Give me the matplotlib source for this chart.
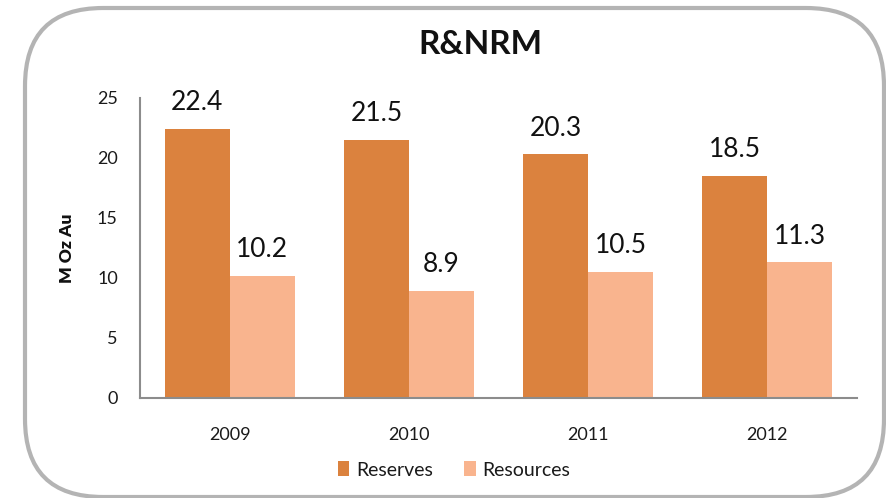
import matplotlib

matplotlib.use("Agg")
import matplotlib.pyplot as plt  # noqa: E402
import numpy as np  # noqa: E402
from matplotlib.patches import FancyBboxPatch  # noqa: E402

years = ["2009", "2010", "2011", "2012"]
reserves = [22.4, 21.5, 20.3, 18.5]
resources = [10.2, 8.9, 10.5, 11.3]

RESERVE_COLOR = "#DB823E"
RESOURCE_COLOR = "#F9B48E"
W, H = 886, 498

plt.rcParams["font.family"] = ["Lato", "DejaVu Sans"]

fig = plt.figure(figsize=(W / 100, H / 100), dpi=100)

# pixel-space background axes for the rounded frame
bg = fig.add_axes([0, 0, 1, 1])
bg.set_xlim(0, W)
bg.set_ylim(H, 0)
bg.axis("off")
frame = FancyBboxPatch((25, 8), 859, 489, boxstyle="round,pad=0,rounding_size=78",
                       facecolor="white", edgecolor="#B4B4B4", linewidth=3)
bg.add_patch(frame)

ax = fig.add_axes([140 / W, 1 - 398 / H, (857 - 140) / W, 300 / H])
ax.patch.set_alpha(0)

x = np.arange(len(years))
width = 0.3625
b1 = ax.bar(x - width / 2, reserves, width, color=RESERVE_COLOR, label="Reserves")
b2 = ax.bar(x + width / 2, resources, width, color=RESOURCE_COLOR, label="Resources")

for bars, vals in ((b1, reserves), (b2, resources)):
    for rect, v in zip(bars, vals):
        ax.annotate(f"{v:.1f}", (rect.get_x() + rect.get_width() / 2, v),
                    xytext=(0, 13.5), textcoords="offset points",
                    ha="center", va="baseline", fontsize=19, color="#111111")

ax.set_xlim(-0.5, len(years) - 0.5)
ax.set_ylim(0, 25)
ax.set_yticks([0, 5, 10, 15, 20, 25])
ax.set_xticks(x, years)
ax.tick_params(axis="y", length=0, pad=16, labelsize=13, labelcolor="#1a1a1a")
ax.tick_params(axis="x", length=0, pad=21, labelsize=13, labelcolor="#1a1a1a")
for side in ("top", "right"):
    ax.spines[side].set_visible(False)
for side in ("left", "bottom"):
    ax.spines[side].set_color("#8C8C8C")
    ax.spines[side].set_linewidth(1.5)

fig.text(67 / W, 1 - 248 / H, "M Oz Au", rotation=90, ha="center", va="center",
         fontsize=12.5, fontweight="heavy", color="#111111")
fig.text(480 / W, 1 - 45 / H, "R&NRM", ha="center", va="center",
         fontsize=24, fontweight="bold", color="#111111")

fig.legend(handles=[b1, b2], loc="center", bbox_to_anchor=(454 / W, 1 - 470 / H),
           ncol=2, frameon=False, fontsize=14, handlelength=0.6, handleheight=0.8,
           handletextpad=0.35, columnspacing=1.6, labelcolor="#1a1a1a")

fig.savefig("out.png", dpi=100)
plt.close(fig)
